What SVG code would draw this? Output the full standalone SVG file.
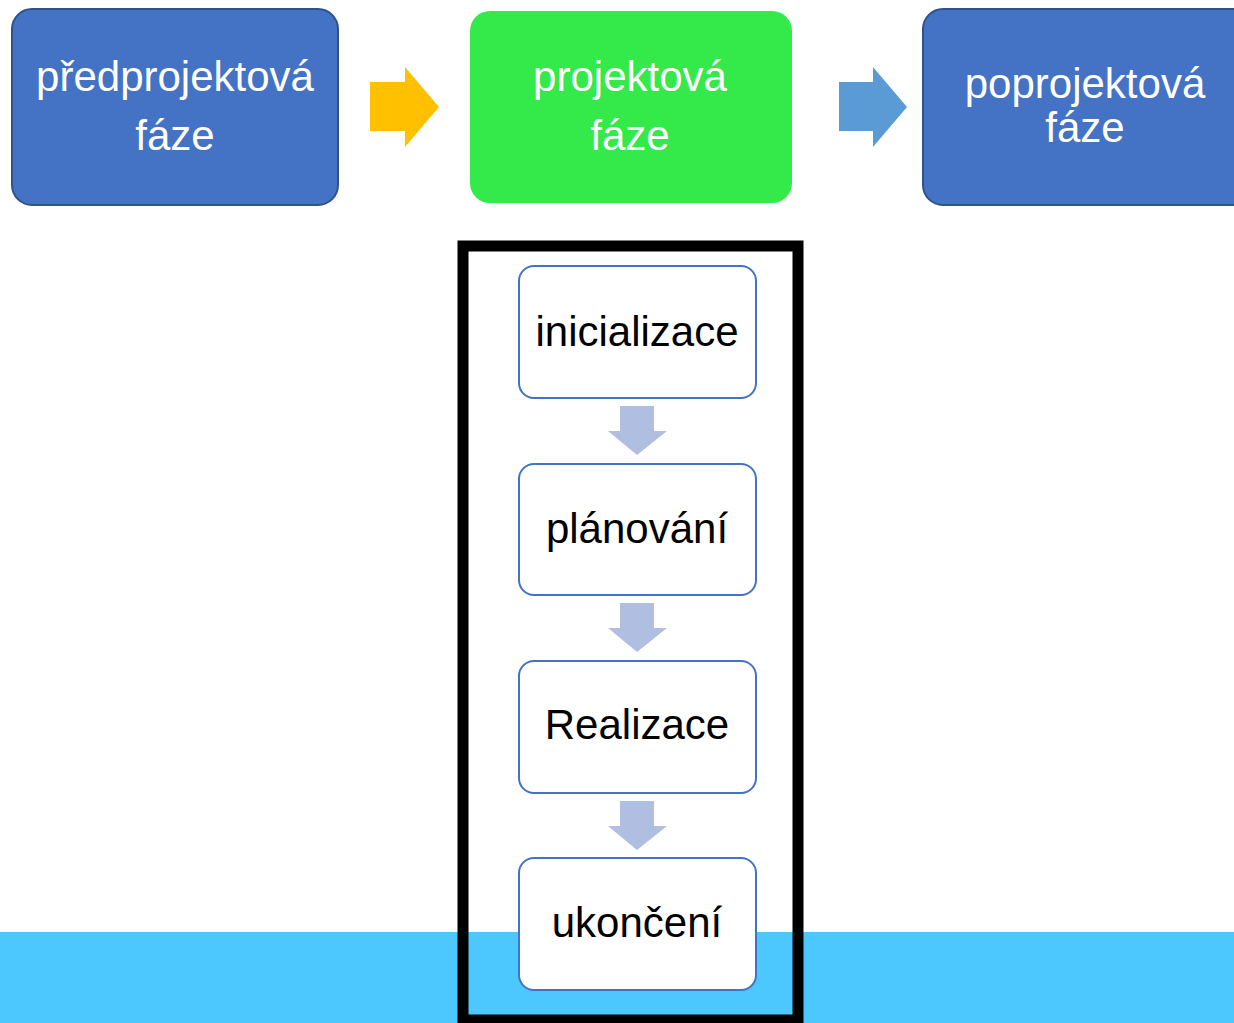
<svg xmlns="http://www.w3.org/2000/svg" width="1234" height="1023" viewBox="0 0 1234 1023">
<style>
.phase{fill:#4472C4;stroke:#2F528F;stroke-width:2}
.wt{font-family:"Liberation Sans",Arial,sans-serif;font-size:42px;fill:#fff;text-anchor:middle}
.bt{font-family:"Liberation Sans",Arial,sans-serif;font-size:42px;fill:#000;text-anchor:middle}
.step{fill:#fff;stroke:#4472C4;stroke-width:2}
.down{fill:#B0BFE1}
</style>
<rect width="1234" height="1023" fill="#fff"/>
<rect x="0" y="932" width="1234" height="91" fill="#4DC8FF"/>
<g id="predprojektova">
<rect class="phase" x="12" y="9" width="326" height="196" rx="20"/>
<text class="wt" x="175" y="91">předprojektová</text>
<text class="wt" x="175" y="150">fáze</text>
</g>
<g id="projektova">
<rect x="470" y="11" width="322" height="192" rx="20" fill="#33EA4A"/>
<text class="wt" x="630" y="91">projektová</text>
<text class="wt" x="630" y="150">fáze</text>
</g>
<g id="poprojektova">
<rect class="phase" x="923" y="9" width="330" height="196" rx="20"/>
<text class="wt" x="1085" y="98">poprojektová</text>
<text class="wt" x="1085" y="142">fáze</text>
</g>
<rect id="frame" x="463" y="246" width="335" height="774" fill="none" stroke="#000" stroke-width="11"/>
<g id="inicializace">
<rect class="step" x="519" y="266" width="237" height="132" rx="15"/>
<text class="bt" x="637" y="346">inicializace</text>
</g>
<g id="planovani">
<rect class="step" x="519" y="464" width="237" height="131" rx="15"/>
<text class="bt" x="637" y="543">plánování</text>
</g>
<g id="realizace">
<rect class="step" x="519" y="661" width="237" height="132" rx="15"/>
<text class="bt" x="637" y="739">Realizace</text>
</g>
<g id="ukonceni">
<rect class="step" x="519" y="858" width="237" height="132" rx="15"/>
<text class="bt" x="637" y="937">ukončení</text>
</g>
<g id="connectors">
<polygon fill="#FFC000" points="370,82 405,82 405,67 439,107 405,147 405,131 370,131"/>
<polygon fill="#5B9BD5" points="839,82 873,82 873,67 907,107 873,147 873,131 839,131"/>
<polygon class="down" points="620,406 654,406 654,431 667,431 637,455 608,431 620,431"/>
<polygon class="down" points="620,603 654,603 654,628 667,628 637,652 608,628 620,628"/>
<polygon class="down" points="620,801 654,801 654,826 667,826 637,850 608,826 620,826"/>
</g>
</svg>
